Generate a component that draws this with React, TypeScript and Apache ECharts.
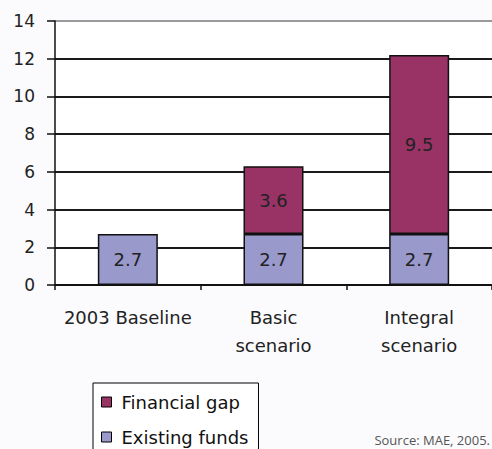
import React, { useEffect, useRef } from "react";
import * as echarts from "echarts";

const categories = ["2003 Baseline", "Basic\nscenario", "Integral\nscenario"];
const existingFunds = [2.7, 2.7, 2.7];
const financialGap: (number | null)[] = [null, 3.6, 9.5];
const yTicks = { min: 0, max: 14, interval: 2 };
const sourceNote = "Source: MAE, 2005.";

const FONT = "DejaVu Sans";

export default function App() {
  const ref = useRef<HTMLDivElement>(null);
  useEffect(() => {
    if (!ref.current) return;
    const chart = echarts.init(ref.current, undefined, { renderer: "svg" });
    chart.setOption({
      animation: false,
      backgroundColor: "#fbfbfd",
      grid: {
        left: 55,
        top: 21,
        right: -5,
        bottom: 164,
        show: true,
        backgroundColor: "#ffffff",
        borderWidth: 0,
      },
      legend: {
        orient: "vertical",
        left: 93,
        top: 383,
        height: 120,
        data: ["Financial gap", "Existing funds"],
        icon: "rect",
        itemWidth: 10,
        itemHeight: 10,
        itemGap: 15,
        padding: [9, 10, 20, 8],
        borderColor: "#000",
        borderWidth: 1,
        backgroundColor: "#ffffff",
        itemStyle: { borderColor: "#000", borderWidth: 1 },
        textStyle: {
          fontFamily: FONT,
          fontSize: 18,
          color: "#111",
          lineHeight: 20,
          padding: [0, 0, 0, 5],
        },
      },
      xAxis: {
        type: "category",
        data: categories,
        boundaryGap: true,
        axisLine: { lineStyle: { color: "#111", width: 1.5 } },
        axisTick: { show: true, length: 5, lineStyle: { color: "#111", width: 1.5 } },
        axisLabel: {
          interval: 0,
          fontFamily: FONT,
          fontSize: 18,
          color: "#222",
          lineHeight: 28,
          margin: 18,
        },
      },
      yAxis: {
        type: "value",
        min: yTicks.min,
        max: yTicks.max,
        interval: yTicks.interval,
        axisLine: { show: true, lineStyle: { color: "#111", width: 1.5 } },
        axisTick: { show: true, length: 8, lineStyle: { color: "#111", width: 1.5 } },
        axisLabel: {
          fontFamily: FONT,
          fontSize: 17,
          color: "#222",
          margin: 20,
        },
        splitLine: {
          show: true,
          lineStyle: {
            color: ["#1a1a1a", "#1a1a1a", "#1a1a1a", "#1a1a1a", "#1a1a1a", "#1a1a1a", "#1a1a1a", "#999"],
            width: 2,
          },
        },
      },
      series: [
        {
          name: "Existing funds",
          type: "bar",
          stack: "total",
          data: existingFunds,
          barWidth: 60,
          itemStyle: { color: "#9999cc", borderColor: "#111", borderWidth: 1.5 },
          label: {
            show: true,
            position: "inside",
            fontFamily: FONT,
            fontSize: 18,
            color: "#222",
          },
        },
        {
          name: "Financial gap",
          type: "bar",
          stack: "total",
          data: financialGap,
          barWidth: 60,
          itemStyle: { color: "#993366", borderColor: "#111", borderWidth: 1.5 },
          label: {
            show: true,
            position: "inside",
            fontFamily: FONT,
            fontSize: 18,
            color: "#222",
          },
        },
      ],
      graphic: [
        {
          type: "text",
          right: 2,
          top: 433,
          style: {
            text: sourceNote,
            fontFamily: "Open Sans",
            fontSize: 13,
            fill: "#555",
          },
        },
      ],
    });
    return () => chart.dispose();
  }, []);
  return (
    <div
      ref={ref}
      style={{ position: "fixed", left: 0, top: 0, width: 492, height: 449 }}
    />
  );
}
